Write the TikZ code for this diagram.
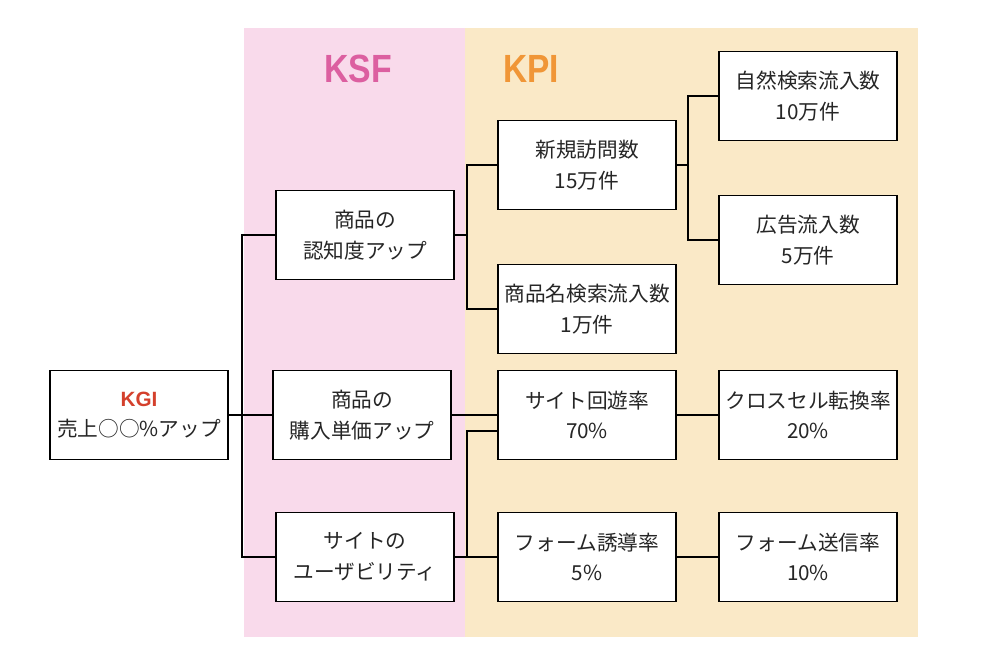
\documentclass[tikz,border=0pt]{standalone}
\usepackage{fontspec}
\setmainfont{Noto Sans CJK JP}
\newfontfamily\latinsans{Liberation Sans}
\begin{document}
\begin{tikzpicture}[x=0.75pt,y=-0.75pt,
  box/.style={draw=black,line width=1.2pt,fill=white,minimum width=133.5pt,minimum height=66.5pt,
    inner sep=0pt,align=center,font=\fontsize{15.5pt}{23pt}\selectfont,text=black!85},
  title/.style={font=\fontsize{29.5pt}{30pt}\selectfont\latinsans\bfseries},
  link/.style={line width=1.5pt,draw=black}]
\definecolor{pinkbg}{RGB}{249,218,235}
\definecolor{beigebg}{RGB}{250,233,199}
\definecolor{ksfcol}{RGB}{220,95,160}
\definecolor{kpicol}{RGB}{240,150,55}
\definecolor{kgicol}{RGB}{212,64,44}
\useasboundingbox (0,0) rectangle (1000,669);
\fill[white] (0,0) rectangle (1000,669);
\fill[pinkbg] (244,28) rectangle (465,637);
\fill[beigebg] (465,28) rectangle (918,637);
\node[title,text=ksfcol] (ksf) at (358,69) {\scalebox{0.86}[1]{KSF}};
\node[title,text=kpicol] (kpi) at (531,69) {\scalebox{0.85}[1]{KPI}};

\node[box] (kgi) at (139,415) {{\latinsans\bfseries\color{kgicol}KGI}\\売上○○\%アップ};
\node[box] (s1) at (365,235) {商品の\\認知度アップ};
\node[box] (s2) at (362,415) {商品の\\購入単価アップ};
\node[box] (s3) at (365,557) {サイトの\\ユーザビリティ};

\node[box] (p1) at (587,165) {新規訪問数\\15万件};
\node[box] (p2) at (587,309) {商品名検索流入数\\1万件};
\node[box] (p3) at (587,415) {サイト回遊率\\70\%};
\node[box] (p4) at (587,557) {フォーム誘導率\\5\%};

\node[box] (q1) at (808,96) {自然検索流入数\\10万件};
\node[box] (q2) at (808,240) {広告流入数\\5万件};
\node[box] (q3) at (808,415) {クロスセル転換率\\20\%};
\node[box] (q4) at (808,557) {フォーム送信率\\10\%};

\coordinate (j1) at (242,415);
\coordinate (j2) at (467,235);
\coordinate (j3) at (467,557);
\coordinate (c3) at (498,431);
\coordinate (j4) at (688,165);

\draw[link] (kgi.east) -- (s2.west);
\draw[link] (s1.west) -| (j1) |- (s3.west);
\draw[link] (s1.east) -- (j2);
\draw[link] (p1.west) -| (j2) |- (p2.west);
\draw[link] (s2.east) -- (p3.west);
\draw[link] (s3.east) -- (p4.west);
\draw[link] (c3) -| (j3);
\draw[link] (p1.east) -- (j4);
\draw[link] (q1.west) -| (j4) |- (q2.west);
\draw[link] (p3.east) -- (q3.west);
\draw[link] (p4.east) -- (q4.west);
\end{tikzpicture}
\end{document}
